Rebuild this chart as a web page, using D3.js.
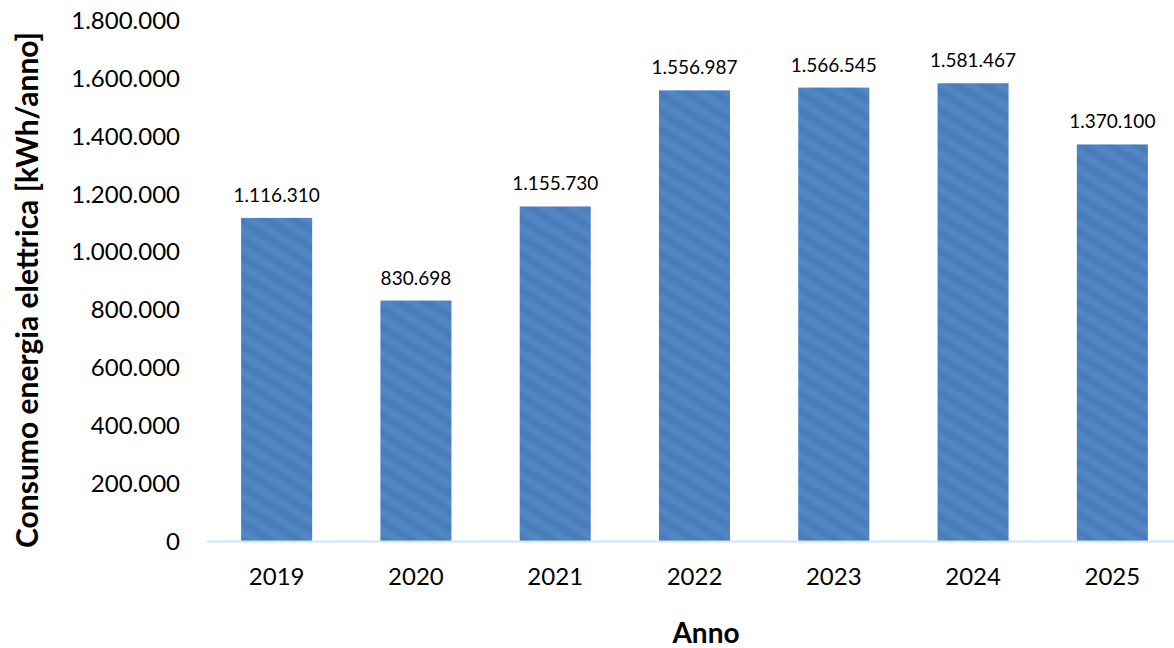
<!DOCTYPE html>
<html>
<head>
<meta charset="utf-8">
<script src="https://cdn.jsdelivr.net/npm/d3@7"></script>
<style>
  html, body { margin: 0; padding: 0; background: #ffffff; }
  svg { display: block; }
  text { font-family: Lato, "Open Sans", sans-serif; fill: #000; }
</style>
</head>
<body>
<svg id="chart" width="1174" height="648"></svg>
<script>
// Annual electricity consumption, kWh
const years = ["2019", "2020", "2021", "2022", "2023", "2024", "2025"];
const consumption = [1116310, 830698, 1155730, 1556987, 1566545, 1581467, 1370100];
const yTicks = [0, 200000, 400000, 600000, 800000, 1000000, 1200000, 1400000, 1600000, 1800000];
const yTitle = "Consumo energia elettrica [kWh/anno]";
const xTitle = "Anno";

const svg = d3.select("#chart");
const W = 1174, H = 648;
const plot = { left: 207, right: 1182, top: 20, bottom: 541 };

// Italian number formatting: dot as thousands separator
const itFmt = d3.formatLocale({ decimal: ",", thousands: ".", grouping: [3], currency: ["€", ""] }).format(",d");

const x = d3.scaleBand().domain(years).range([plot.left, plot.right]).paddingInner(0.49).paddingOuter(0.245);
const y = d3.scaleLinear().domain([0, 1800000]).range([plot.bottom, plot.top]);

// Soft diagonal stripe fill for the bars
const defs = svg.append("defs");
const grad = defs.append("linearGradient").attr("id", "stripeGrad")
  .attr("x1", "0").attr("y1", "0").attr("x2", "1").attr("y2", "0");
grad.append("stop").attr("offset", "0%").attr("stop-color", "#477ab8");
grad.append("stop").attr("offset", "50%").attr("stop-color", "#5388c7");
grad.append("stop").attr("offset", "100%").attr("stop-color", "#477ab8");
const pat = defs.append("pattern").attr("id", "barFill")
  .attr("patternUnits", "userSpaceOnUse")
  .attr("width", 15).attr("height", 15)
  .attr("patternTransform", "rotate(-58)");
pat.append("rect").attr("width", 15).attr("height", 15).attr("fill", "url(#stripeGrad)");

// Bars
svg.append("g").selectAll("rect").data(consumption).join("rect")
  .attr("x", (d, i) => x(years[i]))
  .attr("y", d => y(d))
  .attr("width", x.bandwidth())
  .attr("height", d => y(0) - y(d))
  .attr("fill", "url(#barFill)");

// Baseline
svg.append("line")
  .attr("x1", plot.left).attr("x2", W)
  .attr("y1", y(0) + 0.5).attr("y2", y(0) + 0.5)
  .attr("stroke", "#cde6f8").attr("stroke-width", 2);

// Y axis tick labels
const yAxis = d3.axisLeft(y).tickValues(yTicks).tickFormat(itFmt).tickSize(0).tickPadding(0);
const gy = svg.append("g").attr("transform", "translate(180,0)").call(yAxis);
gy.select(".domain").remove();
gy.selectAll("text").attr("font-size", 24).attr("font-family", "Lato, sans-serif").attr("fill", "#000").attr("dy", "0.35em");

// X axis tick labels
const xAxis = d3.axisBottom(x).tickSize(0).tickPadding(0);
const gx = svg.append("g").attr("transform", `translate(0,${y(0)})`).call(xAxis);
gx.select(".domain").remove();
gx.selectAll("text").attr("font-size", 24).attr("font-family", "Lato, sans-serif").attr("fill", "#000")
  .attr("y", 44).attr("dy", 0);

// Value labels above bars
svg.append("g").selectAll("text").data(consumption).join("text")
  .attr("x", (d, i) => x(years[i]) + x.bandwidth() / 2)
  .attr("y", d => y(d) - 16)
  .attr("text-anchor", "middle")
  .attr("font-size", 19)
  .text(d => itFmt(d));

// Axis titles
svg.append("text")
  .attr("transform", "translate(38,290) rotate(-90)")
  .attr("text-anchor", "middle")
  .attr("font-size", 30)
  .attr("font-weight", "bold")
  .text(yTitle);

svg.append("text")
  .attr("x", 706).attr("y", 643)
  .attr("text-anchor", "middle")
  .attr("font-size", 28)
  .attr("font-weight", "bold")
  .text(xTitle);
</script>
</body>
</html>
